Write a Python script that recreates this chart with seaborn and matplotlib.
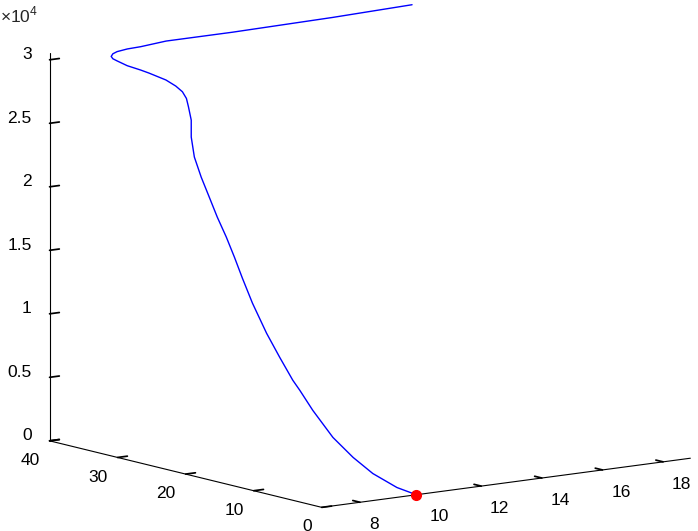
import matplotlib
matplotlib.use("Agg")
import matplotlib.pyplot as plt
import seaborn as sns

sns.set_theme(style="white")
plt.rcParams["font.family"] = ["Liberation Sans", "DejaVu Sans"]
plt.rcParams["mathtext.fontset"] = "custom"
plt.rcParams["mathtext.rm"] = "Liberation Sans"

# trajectory (z in raw units)
traj_x = [9.86, 9.40, 8.92, 8.61, 8.36, 8.24, 8.21, 8.18, 8.20, 8.24, 8.36, 8.51,
          8.65, 8.77, 8.86, 8.98, 9.10, 9.26, 9.53, 9.84, 10.00, 10.09, 10.09, 9.99,
          9.80, 9.41, 9.21, 8.88, 8.66, 8.57, 8.56, 8.66, 8.83, 9.19, 9.64, 10.52,
          12.70, 16.04, 18.70]
traj_y = [0.00, 0.80, 2.21, 3.73, 5.58, 8.00, 9.78, 10.67, 12.69, 14.79, 17.40, 19.55,
          21.34, 23.07, 24.80, 26.51, 28.23, 29.95, 31.61, 32.99, 34.11, 34.81, 35.40, 35.93,
          36.53, 37.28, 37.63, 38.12, 38.62, 38.85, 39.05, 39.25, 39.38, 39.49, 39.53, 39.71,
          39.71, 39.82, 40.00]
traj_z = [0, 610, 1680, 2850, 4260, 6110, 7470, 8150, 9690, 11290, 13280, 14920,
          16290, 17610, 18930, 20240, 21550, 22860, 24130, 25180, 26030, 26570, 27020, 27430,
          27890, 28460, 28720, 29100, 29480, 29650, 29810, 29960, 30060, 30140, 30170, 30310,
          30310, 30400, 30530]

x_ticks = [8, 10, 12, 14, 16, 18]
y_ticks = [0, 10, 20, 30, 40]
z_ticks = [0, 5000, 10000, 15000, 20000, 25000, 30000]

fig = plt.figure(figsize=(6.98, 5.31), dpi=100)
ax = fig.add_axes([0.1394, 0.0053, 0.7607, 1.0], projection="3d", proj_type="ortho")
ax.view_init(elev=10.4, azim=-126.45)
ax.set_box_aspect((1, 1, 0.861), zoom=1.387)
ax.computed_zorder = False

ax.plot(traj_x, traj_y, traj_z, color="#0000ff", lw=1.0, zorder=2)
ax.plot([traj_x[0]], [traj_y[0]], [traj_z[0]], "o", color="red", ms=7, zorder=3)

ax.set_xlim(6.74, 18.9)
ax.set_ylim(0, 40)
ax.set_zlim(0, 30550)
ax.set_xticks(x_ticks, labels=[str(t) for t in x_ticks], ha="left")
ax.set_yticks(y_ticks, labels=[str(t) for t in y_ticks], ha="right")
ax.set_zticks(z_ticks, labels=[f"{t / 1e4:g}" for t in z_ticks], ha="right", va="baseline")

ax.grid(False)
for axis in (ax.xaxis, ax.yaxis, ax.zaxis):
    axis.pane.set_visible(False)
    axis.line.set_color("black")
    axis.line.set_linewidth(0.8)
    axis._axinfo["tick"]["inward_factor"] = 0.0
    axis._axinfo["tick"]["outward_factor"] = 0.33
ax.tick_params(colors="black", labelsize=12.5)
ax.tick_params(axis="x", pad=-1.5)
ax.tick_params(axis="y", pad=-2.5)
ax.tick_params(axis="z", pad=-2.5)

fig.text(0.0, 1 - 22 / 531, "×10$^{4}$", fontsize=12.5, va="baseline")

fig.savefig("out.png", dpi=100)
